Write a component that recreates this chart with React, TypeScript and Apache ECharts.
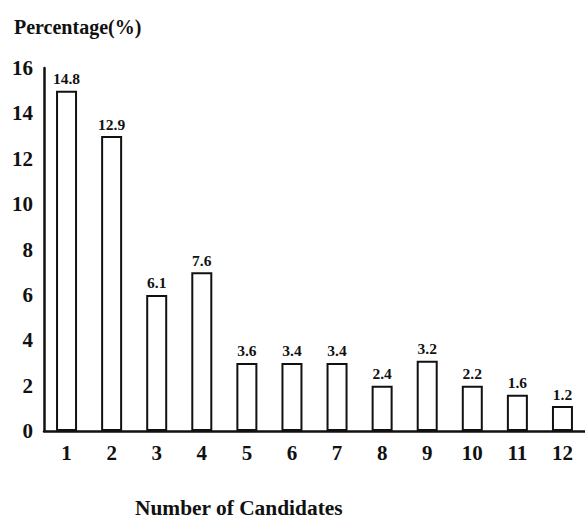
import React, { useEffect, useRef } from "react";
import * as echarts from "echarts";

const categories = ["1", "2", "3", "4", "5", "6", "7", "8", "9", "10", "11", "12"];
// bar heights as drawn in the picture
const barHeights = [15, 13, 6, 7, 3, 3, 3, 2, 3.1, 2, 1.6, 1.1];
// value labels as printed above each bar
const barLabels = ["14.8", "12.9", "6.1", "7.6", "3.6", "3.4", "3.4", "2.4", "3.2", "2.2", "1.6", "1.2"];
const yTitle = "Percentage(%)";
const xTitle = "Number of Candidates";

const FONT = "Liberation Serif";

export default function App() {
  const ref = useRef<HTMLDivElement>(null);
  useEffect(() => {
    if (!ref.current) return;
    const chart = echarts.init(ref.current, undefined, { renderer: "svg" });
    chart.setOption({
      animation: false,
      backgroundColor: "#ffffff",
      title: {
        text: yTitle,
        left: 9,
        top: 12,
        textStyle: { fontFamily: FONT, fontSize: 20, fontWeight: "bold", color: "#111" },
      },
      graphic: [
        {
          type: "text",
          left: 135,
          top: 497,
          style: { text: xTitle, font: `bold 21.4px "${FONT}"`, fill: "#111" },
        },
      ],
      grid: { left: 44, top: 68, width: 544, height: 363, containLabel: false },
      xAxis: {
        type: "category",
        data: categories,
        axisLine: { show: true, lineStyle: { color: "#111", width: 2.5 } },
        axisTick: { show: false },
        axisLabel: { fontFamily: FONT, fontSize: 21, fontWeight: "bold", color: "#111", margin: 11 },
        splitLine: { show: false },
      },
      yAxis: {
        type: "value",
        min: 0,
        max: 16,
        interval: 2,
        axisLine: { show: true, lineStyle: { color: "#111", width: 2.5 } },
        axisTick: { show: false },
        axisLabel: { fontFamily: FONT, fontSize: 21, fontWeight: "bold", color: "#111", margin: 11 },
        splitLine: { show: false },
      },
      series: [
        {
          type: "bar",
          data: barHeights,
          barWidth: 21,
          itemStyle: { color: "#ffffff", borderColor: "#111", borderWidth: 2 },
          label: {
            show: true,
            position: "top",
            distance: 4,
            formatter: (p: any) => barLabels[p.dataIndex],
            fontFamily: FONT,
            fontSize: 15.5,
            fontWeight: "bold",
            color: "#111",
          },
        },
      ],
    });
    return () => chart.dispose();
  }, []);
  return (
    <div
      ref={ref}
      style={{ position: "absolute", left: 0, top: 0, width: 585, height: 518 }}
    />
  );
}
